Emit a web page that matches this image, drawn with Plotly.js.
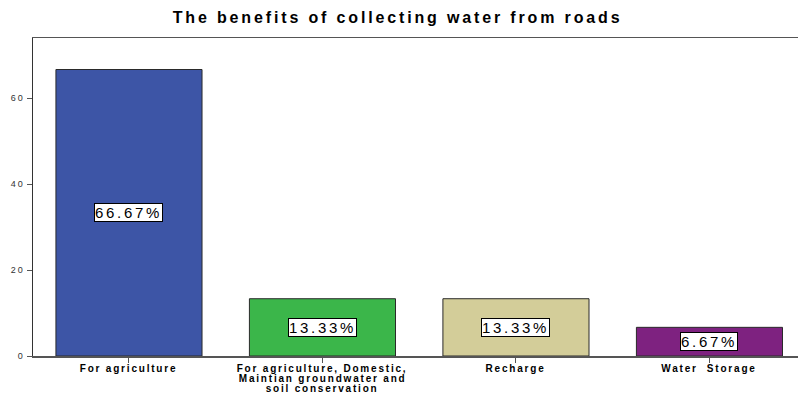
<!DOCTYPE html>
<html>
<head>
<meta charset="utf-8">
<script src="https://cdn.plot.ly/plotly-3.0.1.min.js"></script>
<style>
html,body{margin:0;padding:0;background:#fff;overflow:hidden;width:798px;height:393px}
#chart{width:830px;height:393px}
.gtitle{letter-spacing:2.85px}
.ytick text{letter-spacing:2px}
.annotation-text{letter-spacing:2.7px}
</style>
<style id="lblstyle"></style>
</head>
<body>
<div id="chart"></div>
<script>
const categories = [
  "For agriculture",
  "For agriculture, Domestic,<br>Maintian groundwater and<br>soil conservation",
  "Recharge",
  "Water  Storage"
];
const percents = [66.67, 13.33, 13.33, 6.67];
const labels = ["66.67%", "13.33%", "13.33%", "6.67%"];
const colors = ["#3D55A6", "#3BB64A", "#D3CD99", "#7E2280"];
const yTicks = [0, 20, 40, 60];

const idx = categories.map((c, i) => i);
const FONT = "Liberation Sans, Arial, sans-serif";

const trace = {
  type: "bar",
  x: idx,
  y: percents,
  width: 0.755,
  marker: { color: colors, line: { color: "#2a2a2a", width: 1 } },
  hoverinfo: "skip"
};

// value labels (boxed)
const annotations = idx.map((i) => ({
  x: i, y: percents[i] / 2, xref: "x", yref: "y",
  text: labels[i], showarrow: false,
  font: { family: FONT, size: 15, color: "#000" },
  bgcolor: "#ffffff", bordercolor: "#000", borderwidth: 1, borderpad: 0
}));

// category labels, one annotation per line for tight line spacing
const labelIdx = [];
idx.forEach((i) => {
  categories[i].split("<br>").forEach((line, k) => {
    labelIdx.push(annotations.length);
    annotations.push({
      x: i, y: 0, xref: "x", yref: "y",
      text: line, showarrow: false,
      yanchor: "middle", yshift: -(12.5 + 10 * k),
      borderpad: 0, borderwidth: 0,
      font: { family: FONT, size: 10, weight: "bold", color: "#000" }
    });
  });
});
document.getElementById("lblstyle").textContent =
  labelIdx.map((n) => 'g.annotation[data-index="' + n + '"] .annotation-text').join(",") +
  "{letter-spacing:1.8px}";

const layout = {
  width: 830, height: 393,
  margin: { l: 33, r: 0, t: 38, b: 37 },
  paper_bgcolor: "#fff", plot_bgcolor: "#fff",
  title: {
    text: "The benefits of collecting water from roads",
    x: 0.479, xanchor: "center", y: 0.955, yanchor: "middle",
    font: { family: FONT, size: 16, weight: "bold", color: "#000" }
  },
  showlegend: false,
  bargap: 0,
  xaxis: {
    range: [-0.496, 3.623],
    tickvals: idx, showticklabels: false,
    showgrid: false, zeroline: false,
    showline: true, linecolor: "#555", linewidth: 1.5, mirror: true,
    ticks: "outside", ticklen: 5, tickcolor: "#555"
  },
  yaxis: {
    range: [0, 74],
    tickvals: yTicks,
    showgrid: false, zeroline: false,
    showline: true, linecolor: "#333", linewidth: 1.5,
    ticks: "outside", ticklen: 5, tickcolor: "#555",
    tickfont: { family: FONT, size: 9, color: "#333" }
  },
  annotations: annotations
};

Plotly.newPlot("chart", [trace], layout, { staticPlot: true, displayModeBar: false });
</script>
</body>
</html>
